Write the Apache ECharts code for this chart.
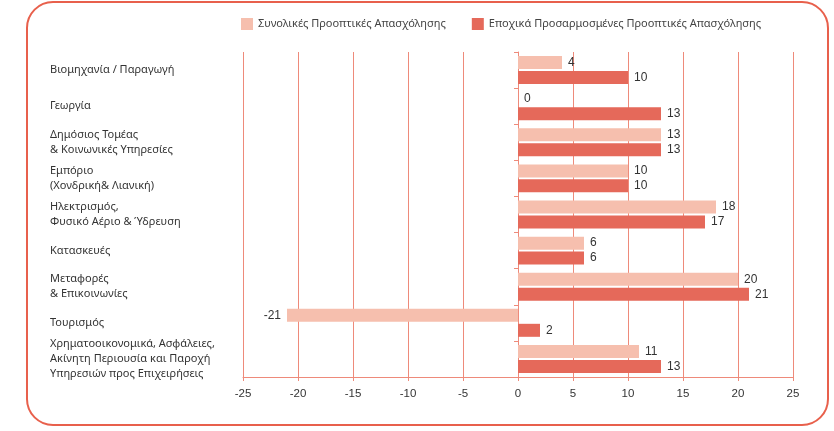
<!DOCTYPE html>
<html>
<head>
<meta charset="utf-8">
<script src="https://cdn.jsdelivr.net/npm/echarts@6/dist/echarts.min.js"></script>
<style>
html, body { margin: 0; padding: 0; background: #fff; }
#chart { width: 834px; height: 431px; }
</style>
</head>
<body>
<div id="chart"></div>
<script>
// κατηγορίες (πάνω προς κάτω)
var categories = [
    'Βιομηχανία / Παραγωγή',
    'Γεωργία',
    'Δημόσιος Τομέας\n& Κοινωνικές Υπηρεσίες',
    'Εμπόριο\n(Χονδρική& Λιανική)',
    'Ηλεκτρισμός,\nΦυσικό Αέριο & Ύδρευση',
    'Κατασκευές',
    'Μεταφορές\n& Επικοινωνίες',
    'Τουρισμός',
    'Χρηματοοικονομικά, Ασφάλειες,\nΑκίνητη Περιουσία και Παροχή\nΥπηρεσιών προς Επιχειρήσεις'
];
var seriesNames = ['Συνολικές Προοπτικές Απασχόλησης', 'Εποχικά Προσαρμοσμένες Προοπτικές Απασχόλησης'];
var totalValues = [4, 0, 13, 10, 18, 6, 20, -21, 11];
var adjustedValues = [10, 13, 13, 10, 17, 6, 21, 2, 13];
var xTicks = { min: -25, max: 25, interval: 5 };

var lineColor = '#ee8a7a';

// αρνητικές τιμές: ετικέτα αριστερά
function withLabels(arr) {
    return arr.map(function (v) {
        return v < 0 ? { value: v, label: { position: 'left' } } : v;
    });
}

var myChart = echarts.init(document.getElementById('chart'));
myChart.setOption({
    animation: false,
    textStyle: { fontFamily: 'Liberation Sans, Arial, sans-serif' },
    graphic: [{
        type: 'rect',
        shape: { x: 27, y: 2, width: 801, height: 423, r: 26 },
        style: { fill: 'none', stroke: '#e8604c', lineWidth: 2 }
    }],
    legend: {
        top: 13,
        left: 236,
        itemWidth: 12,
        itemHeight: 12,
        itemGap: 26,
        icon: 'rect',
        textStyle: { fontSize: 11, color: '#444', fontFamily: 'Noto Sans' },
        data: seriesNames
    },
    grid: {
        left: 243,
        right: 41,
        top: 52,
        bottom: 54,
        containLabel: false
    },
    xAxis: {
        type: 'value',
        min: xTicks.min,
        max: xTicks.max,
        interval: xTicks.interval,
        axisLine: { show: true, lineStyle: { color: lineColor } },
        axisTick: { show: true, length: 4, lineStyle: { color: lineColor } },
        axisLabel: { color: '#333', fontSize: 11.5, margin: 11 },
        splitLine: { show: true, lineStyle: { color: lineColor } }
    },
    yAxis: {
        type: 'category',
        inverse: true,
        data: categories,
        axisLine: { show: true, lineStyle: { color: lineColor } },
        axisTick: { show: true, length: 4, lineStyle: { color: lineColor } },
        axisLabel: {
            align: 'left',
            margin: 193,
            color: '#333',
            fontSize: 11,
            lineHeight: 15,
            fontFamily: 'Noto Sans'
        }
    },
    series: [{
        name: seriesNames[0],
        type: 'bar',
        data: withLabels(totalValues),
        barWidth: 13,
        barGap: '15%',
        itemStyle: { color: '#f6bfae' },
        label: { show: true, position: 'right', color: '#333', fontSize: 12, distance: 6 }
    }, {
        name: seriesNames[1],
        type: 'bar',
        data: withLabels(adjustedValues),
        barWidth: 13,
        barGap: '15%',
        itemStyle: { color: '#e5695a' },
        label: { show: true, position: 'right', color: '#333', fontSize: 12, distance: 6 }
    }]
});
</script>
</body>
</html>
